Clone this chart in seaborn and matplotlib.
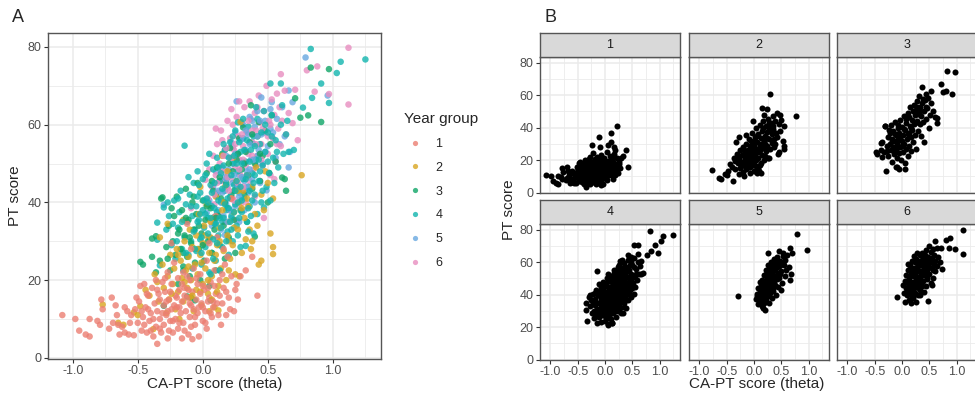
import pandas as pd
import seaborn as sns
import matplotlib.pyplot as plt
from matplotlib.ticker import MultipleLocator
"""
PT score against CA-PT score (theta): all year groups (A) and one panel per year group (B)
"""
#Points, one list of (theta, PT score) per year group
year1 = [(-1.08, 11), (-0.98, 10), (-0.95, 7), (-0.90, 6), (-0.87, 5.5), (-0.87, 10), (-0.81, 9.5),
         (-0.78, 15), (-0.77, 12.5), (-0.79, 8.5), (-0.72, 7.5), (-0.70, 15.5), (-0.69, 9), (-0.67, 13.5),
         (-0.66, 11), (-0.64, 6), (-0.62, 8), (-0.60, 6.5), (-0.58, 12), (-0.57, 6), (-0.55, 11),
         (-0.53, 5.8), (-0.52, 12.5), (-0.50, 9), (-0.49, 14.5), (-0.48, 18.5), (-0.47, 7), (-0.46, 10.5),
         (-0.45, 19), (-0.44, 13), (-0.43, 6.5), (-0.42, 16), (-0.41, 9.5), (-0.40, 11.5), (-0.39, 18),
         (-0.38, 5.5), (-0.37, 14), (-0.36, 8), (-0.35, 3.6), (-0.35, 12), (-0.34, 16.5), (-0.33, 10),
         (-0.32, 6.5), (-0.31, 19.5), (-0.30, 13.5), (-0.30, 8.5), (-0.29, 17), (-0.28, 11), (-0.27, 22),
         (-0.27, 5), (-0.26, 15), (-0.25, 9.5), (-0.24, 19), (-0.24, 12.5), (-0.23, 6.5), (-0.22, 24.5),
         (-0.21, 16), (-0.21, 10), (-0.20, 13), (-0.19, 20.5), (-0.19, 7.5), (-0.18, 17.5), (-0.17, 11.5),
         (-0.16, 14.5), (-0.15, 22), (-0.15, 9), (-0.14, 18), (-0.13, 12), (-0.12, 34.5), (-0.12, 15.5),
         (-0.11, 6), (-0.10, 20), (-0.10, 10.5), (-0.09, 13.5), (-0.08, 4.8), (-0.08, 17), (-0.07, 23),
         (-0.06, 8.5), (-0.05, 15), (-0.04, 11.5), (-0.04, 19), (-0.03, 5.5), (-0.02, 21.5), (-0.01, 14),
         (0.00, 9.5), (0.01, 17.5), (0.02, 12), (0.03, 25), (0.03, 7.5), (0.05, 15.5), (0.06, 19.5),
         (0.07, 10.5), (0.08, 13), (0.09, 22.5), (0.10, 36.5), (0.10, 16.5), (0.11, 31), (0.12, 11),
         (0.13, 20), (0.14, 8.5), (0.15, 14), (0.16, 18), (0.17, 24), (0.18, 11), (0.19, 26), (0.20, 15.5),
         (0.22, 41), (0.22, 21), (0.24, 12), (0.25, 17.5), (0.27, 15), (0.29, 21), (0.33, 22.5), (0.38, 26),
         (0.42, 16), (-0.24, 29.5), (-0.60, 13), (-0.65, 8.5), (-0.47, 12), (-0.40, 7), (-0.36, 20),
         (-0.31, 11.5), (-0.28, 14.5), (-0.26, 7), (-0.22, 13.5), (-0.18, 9), (-0.14, 16), (-0.12, 21),
         (-0.07, 12.5), (-0.02, 16.5), (0.04, 18), (0.08, 14.5), (-0.33, 15), (-0.43, 16.5), (-0.16, 5),
         (-0.09, 8), (0.00, 13), (0.13, 16),
         (-0.56, 9), (-0.51, 15.5), (-0.45, 8.5), (-0.42, 12.5), (-0.38, 10), (-0.35, 17.5), (-0.33, 7.5),
         (-0.29, 20.5), (-0.27, 12), (-0.25, 17), (-0.23, 9.5), (-0.20, 15.5), (-0.18, 13), (-0.16, 19),
         (-0.14, 7), (-0.11, 17.5), (-0.10, 14), (-0.06, 10.5), (-0.05, 20.5), (-0.03, 13), (0.00, 18.5),
         (0.02, 9), (0.04, 14.5), (0.06, 11.5), (0.09, 18.5), (0.11, 14), (0.15, 21.5), (0.18, 17),
         (0.21, 12.5), (0.26, 19), (-0.09, 28), (0.05, 29.5), (0.16, 28)]

year2 = [(-0.77, 13.7), (-0.65, 9), (-0.61, 8.5), (-0.53, 11.7), (-0.50, 11), (-0.48, 13.3), (-0.44, 17.5),
         (-0.41, 16), (-0.38, 7.4), (-0.37, 21.5), (-0.35, 19.5), (-0.34, 14.5), (-0.33, 31), (-0.31, 24),
         (-0.30, 18), (-0.28, 11.5), (-0.27, 34.5), (-0.27, 21), (-0.26, 15), (-0.25, 26.5), (-0.23, 19),
         (-0.22, 23), (-0.21, 12.5), (-0.20, 28), (-0.19, 17), (-0.18, 10), (-0.17, 25), (-0.16, 20.5),
         (-0.15, 35.5), (-0.15, 14.5), (-0.14, 30), (-0.13, 22.5), (-0.12, 18), (-0.11, 26), (-0.10, 33),
         (-0.10, 15.5), (-0.09, 20), (-0.08, 28.5), (-0.07, 12), (-0.06, 24), (-0.05, 31.5), (-0.05, 17.5),
         (-0.04, 21.5), (-0.03, 37), (-0.02, 44), (-0.02, 26.5), (-0.01, 13.5), (0.00, 29.5), (0.00, 19),
         (0.01, 34), (0.02, 23), (0.03, 39.5), (0.04, 16.5), (0.05, 27), (0.05, 12), (0.06, 31), (0.07, 21),
         (0.08, 36), (0.09, 25), (0.09, 13), (0.10, 41.5), (0.11, 29), (0.12, 18.5), (0.12, 12.2),
         (0.13, 33.5), (0.14, 23), (0.15, 52), (0.15, 38), (0.16, 27.5), (0.17, 44), (0.18, 20), (0.19, 48),
         (0.19, 31.5), (0.20, 35), (0.21, 25.5), (0.22, 41), (0.23, 51.5), (0.23, 29), (0.24, 37.5),
         (0.25, 21.5), (0.26, 45.5), (0.27, 33), (0.28, 21), (0.28, 40), (0.29, 60.7), (0.30, 27), (0.31, 43),
         (0.32, 36), (0.33, 30.5), (0.34, 47), (0.35, 39), (0.36, 33), (0.37, 28), (0.38, 30), (0.38, 44),
         (0.40, 37), (0.41, 49), (0.42, 34), (0.43, 24), (0.45, 25), (0.45, 42), (0.47, 38), (0.48, 48),
         (0.50, 45), (0.52, 32), (0.54, 41), (0.54, 26.7), (0.54, 28.5), (0.76, 47), (-0.02, 17), (0.07, 15),
         (-0.24, 16.5), (-0.19, 26.5), (-0.14, 19.5), (-0.11, 23.5), (-0.08, 16), (-0.04, 28), (-0.01, 24.5),
         (0.02, 31.5), (0.04, 20), (0.06, 35), (0.10, 26.5), (0.13, 30), (0.16, 40), (0.20, 30), (0.24, 33.5),
         (0.27, 43), (0.30, 38.5), (0.34, 41), (0.20, 22.5), (0.11, 17)]

year3 = [(-0.48, 24.7), (-0.46, 24), (-0.39, 26), (-0.39, 30.7), (-0.36, 22), (-0.36, 31.3), (-0.33, 25),
         (-0.32, 41), (-0.31, 41.3), (-0.30, 13.4), (-0.28, 28.5), (-0.26, 34), (-0.25, 22.5), (-0.23, 30),
         (-0.22, 36.5), (-0.21, 26.5), (-0.20, 41.5), (-0.19, 19), (-0.18, 33), (-0.17, 28), (-0.16, 38),
         (-0.15, 23.5), (-0.14, 31.5), (-0.13, 43.5), (-0.12, 15.8), (-0.12, 26), (-0.11, 35.5), (-0.10, 21),
         (-0.09, 15.5), (-0.09, 29.5), (-0.08, 40), (-0.07, 33), (-0.06, 14.8), (-0.06, 24.5), (-0.05, 37),
         (-0.04, 45), (-0.03, 28), (-0.02, 20), (-0.01, 32), (0.00, 40.5), (0.01, 25), (0.02, 35.5),
         (0.03, 47.5), (0.04, 30), (0.05, 18.5), (0.06, 14.8), (0.06, 38.5), (0.07, 27), (0.08, 43),
         (0.09, 33), (0.10, 22.5), (0.11, 49), (0.12, 36.5), (0.13, 29), (0.14, 41), (0.15, 52.5), (0.16, 34),
         (0.17, 25.5), (0.18, 45), (0.19, 38.5), (0.20, 31), (0.21, 54), (0.22, 42), (0.23, 48), (0.24, 35.5),
         (0.25, 27), (0.26, 51), (0.27, 44), (0.28, 56.5), (0.29, 38), (0.30, 48.5), (0.31, 59.3), (0.32, 42),
         (0.33, 53), (0.34, 35), (0.35, 47), (0.36, 55.5), (0.37, 65), (0.38, 43.5), (0.40, 31.2), (0.40, 50),
         (0.42, 57), (0.43, 60.7), (0.44, 45.5), (0.46, 52), (0.48, 58.5), (0.50, 40), (0.51, 47.6), (0.52, 55),
         (0.53, 62.4), (0.56, 50.5), (0.61, 46.4), (0.63, 46), (0.64, 43), (0.71, 66.8), (0.75, 61.8),
         (0.81, 62.4), (0.83, 74.7), (0.91, 60.7), (0.97, 74.3),
         (-0.27, 25.5), (-0.24, 38.5), (-0.19, 32), (-0.15, 27), (-0.13, 36), (-0.10, 31), (-0.07, 41.5),
         (-0.03, 34), (0.00, 29), (0.03, 39), (0.07, 45.5), (0.10, 36), (0.13, 46.5), (0.17, 40), (0.20, 50),
         (0.24, 43), (0.27, 52.5), (0.32, 50), (0.38, 57.5), (0.44, 52.5)]

year4 = [(-0.35, 34.8), (-0.35, 30.4), (-0.33, 23.8), (-0.30, 38.7), (-0.28, 33), (-0.26, 36.5), (-0.24, 29),
         (-0.22, 40.5), (-0.21, 25.5), (-0.19, 33.5), (-0.18, 37.5), (-0.17, 43), (-0.16, 28), (-0.15, 22.5),
         (-0.14, 54.6), (-0.14, 31), (-0.13, 39.5), (-0.12, 35), (-0.11, 26.5), (-0.10, 42), (-0.09, 30),
         (-0.08, 36.5), (-0.08, 23), (-0.07, 45), (-0.06, 33), (-0.05, 39), (-0.05, 27.5), (-0.04, 48),
         (-0.03, 35.5), (-0.02, 30.5), (-0.02, 42.5), (-0.01, 24), (0.00, 38), (0.00, 46), (0.01, 33.5),
         (0.02, 28.5), (0.03, 41), (0.03, 50), (0.04, 36), (0.05, 22), (0.05, 31), (0.06, 44.5), (0.07, 39),
         (0.07, 27), (0.08, 48.5), (0.09, 34.5), (0.10, 42), (0.10, 25), (0.11, 37.5), (0.11, 51.5),
         (0.12, 31.5), (0.13, 45.5), (0.13, 22.5), (0.14, 40), (0.15, 35), (0.15, 28.5), (0.16, 49.5),
         (0.17, 43), (0.17, 53.5), (0.18, 38), (0.19, 32.5), (0.19, 46.5), (0.20, 26.5), (0.21, 41.5),
         (0.21, 55.5), (0.22, 36.5), (0.23, 50), (0.23, 30), (0.24, 44.5), (0.25, 39.5), (0.25, 58.5),
         (0.26, 34), (0.27, 60.6), (0.27, 48), (0.28, 42.5), (0.29, 28.5), (0.29, 53), (0.30, 37.5), (0.31, 46),
         (0.31, 56.5), (0.32, 41), (0.33, 28.8), (0.33, 50.5), (0.34, 35), (0.35, 44), (0.35, 59.5), (0.36, 39),
         (0.37, 53.5), (0.38, 47.5), (0.39, 32), (0.39, 57), (0.40, 42), (0.41, 51), (0.42, 61.5), (0.42, 37),
         (0.43, 45.5), (0.44, 55), (0.45, 40), (0.46, 49.5), (0.47, 38.7), (0.47, 63.5), (0.48, 53), (0.49, 44),
         (0.50, 58), (0.51, 47.5), (0.52, 70.6), (0.52, 40.5), (0.53, 62.5), (0.54, 51.5), (0.55, 45),
         (0.56, 56), (0.58, 49), (0.60, 70.6), (0.60, 60), (0.62, 52.5), (0.64, 57.5), (0.66, 53), (0.70, 53.5),
         (0.77, 64.4), (0.83, 79.5), (0.84, 66.9), (0.91, 70.6), (0.97, 65.6), (1.03, 73.3), (1.06, 76.2),
         (1.25, 76.8), (0.06, 21.5), (0.13, 22.5), (-0.02, 37), (0.08, 30.5), (0.12, 40.5), (0.18, 44.5),
         (0.22, 33), (0.26, 45.5), (0.30, 50), (0.34, 47), (0.38, 40.5), (0.43, 51), (0.16, 36), (0.09, 45),
         (0.04, 40), (-0.01, 31), (0.20, 38.5), (0.24, 52), (0.28, 36), (0.36, 43), (0.32, 53.5), (0.45, 58),
         (0.14, 47.5), (0.10, 34.5), (0.27, 40), (0.06, 36), (-0.04, 41.5), (0.35, 32.5), (0.40, 47),
         (-0.27, 40), (-0.23, 34.5), (-0.20, 30), (-0.19, 41), (-0.16, 35), (-0.13, 27), (-0.11, 46.5),
         (-0.09, 39), (-0.07, 32.5), (-0.06, 28), (-0.04, 35), (-0.03, 44.5), (-0.01, 27), (0.01, 40.5),
         (0.02, 47), (0.04, 32), (0.05, 52.5), (0.07, 42.5), (0.08, 25.5), (0.09, 38.5), (0.11, 29.5),
         (0.12, 49), (0.14, 33.5), (0.15, 43.5), (0.16, 55), (0.18, 30), (0.19, 41), (0.20, 51.5), (0.21, 35),
         (0.22, 47), (0.23, 57), (0.24, 37.5), (0.26, 50), (0.27, 31.5), (0.28, 55.5), (0.29, 44),
         (0.30, 40.5), (0.31, 61.5), (0.33, 46), (0.34, 56), (0.36, 50.5), (0.37, 36.5), (0.39, 45),
         (0.40, 54.5), (0.41, 64.5), (0.44, 48), (0.46, 43), (0.48, 60), (0.50, 50.5), (0.53, 57), (0.57, 53),
         (0.61, 65), (0.65, 61), (0.35, 38.5), (0.25, 43), (0.17, 39.5), (0.02, 37), (0.13, 36)]

year5 = [(-0.30, 39.4), (0.03, 37.3), (0.05, 40.5), (0.06, 39.4), (0.07, 34), (0.08, 44), (0.09, 36.3),
         (0.10, 34.8), (0.10, 48), (0.11, 41.5), (0.12, 38), (0.13, 45.5), (0.14, 33), (0.15, 49), (0.15, 42.5),
         (0.16, 36.5), (0.17, 31.6), (0.17, 46.5), (0.18, 52), (0.18, 39.5), (0.19, 44), (0.20, 30.4),
         (0.20, 48.5), (0.21, 41), (0.22, 55.5), (0.22, 36), (0.23, 54.2), (0.23, 45), (0.24, 50), (0.25, 39),
         (0.25, 58), (0.26, 66), (0.26, 43.5), (0.27, 52.5), (0.28, 47), (0.28, 35), (0.29, 56), (0.30, 41),
         (0.30, 50.5), (0.31, 60), (0.32, 45.5), (0.32, 38), (0.33, 53.5), (0.34, 48), (0.35, 57.5),
         (0.35, 42.5), (0.36, 62), (0.37, 51), (0.38, 46), (0.39, 55), (0.40, 59.5), (0.40, 40), (0.41, 49.5),
         (0.42, 63.5), (0.43, 53.5), (0.44, 45), (0.45, 67), (0.45, 57.5), (0.46, 50), (0.48, 61), (0.49, 43.1),
         (0.50, 54.5), (0.51, 47.5), (0.52, 64), (0.53, 65.8), (0.54, 58), (0.56, 51.5), (0.57, 61.5),
         (0.59, 55), (0.61, 64.5), (0.63, 57), (0.66, 68.8), (0.66, 49), (0.67, 53), (0.69, 65.8), (0.79, 77.3),
         (0.96, 67.5), (0.12, 43), (0.19, 35), (0.27, 44), (0.36, 55), (0.42, 52), (0.47, 58), (0.24, 47),
         (0.31, 56.5), (0.38, 61),
         (0.14, 40), (0.18, 46), (0.21, 38), (0.25, 52.5), (0.28, 41.5), (0.30, 46.5), (0.33, 58.5),
         (0.36, 48.5), (0.39, 51), (0.42, 57), (0.44, 61), (0.48, 53), (0.52, 59), (0.16, 43), (0.34, 44)]

year6 = [(-0.09, 38.5), (0.02, 45.8), (0.04, 41), (0.05, 48.5), (0.06, 35.4), (0.07, 44), (0.08, 52),
         (0.09, 39.5), (0.10, 47), (0.11, 55), (0.12, 42.5), (0.13, 36.5), (0.13, 50), (0.14, 58.5),
         (0.15, 45.5), (0.16, 40), (0.17, 35), (0.17, 53.5), (0.18, 48), (0.19, 61), (0.19, 43.5), (0.20, 38),
         (0.21, 51.5), (0.21, 56.5), (0.22, 46), (0.23, 60), (0.23, 41), (0.24, 53.5), (0.25, 49), (0.26, 35.4),
         (0.26, 44.5), (0.26, 62), (0.27, 57), (0.28, 51), (0.29, 39.5), (0.29, 47), (0.30, 60.5), (0.31, 54.5),
         (0.32, 43), (0.32, 64.5), (0.33, 49.5), (0.34, 58), (0.35, 52.5), (0.36, 45.5), (0.36, 66),
         (0.37, 61.5), (0.38, 55.5), (0.39, 48.5), (0.40, 63), (0.40, 41.5), (0.41, 58.5), (0.42, 52),
         (0.43, 67.5), (0.44, 45.5), (0.44, 60.5), (0.45, 55), (0.46, 49.5), (0.47, 36), (0.47, 63.5),
         (0.48, 58), (0.49, 70), (0.50, 52.5), (0.51, 61), (0.52, 47), (0.53, 66.5), (0.54, 56.5), (0.55, 62.5),
         (0.56, 50.5), (0.57, 68), (0.58, 59), (0.59, 64.5), (0.60, 73), (0.60, 54.5), (0.61, 61), (0.63, 68.75),
         (0.64, 57.5), (0.66, 63), (0.69, 60.4), (0.71, 69), (0.73, 56), (0.80, 74), (0.86, 68.5), (0.88, 75),
         (0.97, 67.9), (1.12, 79.8), (1.12, 65.2), (0.15, 56), (0.22, 64), (0.27, 45), (0.33, 40), (0.38, 52),
         (0.45, 51), (0.50, 57), (0.30, 57.5), (0.18, 54), (0.24, 40.5), (0.34, 47), (0.42, 64.5), (0.11, 45),
         (0.55, 46), (0.57, 55), (0.10, 59), (0.28, 66),
         (0.09, 42), (0.14, 48), (0.16, 52), (0.19, 46.5), (0.22, 51.5), (0.25, 55), (0.28, 48.5), (0.31, 51),
         (0.35, 61), (0.38, 58.5), (0.41, 55), (0.46, 59), (0.52, 60), (0.20, 43), (0.31, 44)]

year_labels = ["1", "2", "3", "4", "5", "6"]
year_colors = ["#EC7E72", "#D9A520", "#0FA567", "#11B5AE", "#68A8E0", "#E88DC0"]
x_ticks = [-1.0, -0.5, 0.0, 0.5, 1.0]
y_ticks = [0, 20, 40, 60, 80]

#Long table: one row per pupil
rows = []
for label, pts in zip(year_labels, [year1, year2, year3, year4, year5, year6]):
    for k, (theta, pt) in enumerate(pts):
        rows.append({"theta": theta, "pt": pt, "Year group": label, "k": k})
df = pd.DataFrame(rows)
#Interleave the groups so no single colour is always drawn on top
df_mixed = df.sort_values("k", kind="stable")

sns.set_theme(style="white")
plt.rcParams['font.family'] = ['Liberation Sans', 'DejaVu Sans']
plt.rcParams['axes.unicode_minus'] = False

W, H = 975, 397
fig = plt.figure(figsize=(W / 100, H / 100), dpi=100)


def px_box(left, top, right, bottom):
    return [left / W, 1 - bottom / H, (right - left) / W, (bottom - top) / H]


def style_panel(ax, show_x=True, show_y=True):
    ax.set_xlim(-1.19, 1.37)
    ax.set_ylim(-0.3, 83.6)
    ax.set_xticks(x_ticks)
    ax.set_yticks(y_ticks)
    ax.xaxis.set_minor_locator(MultipleLocator(0.25))
    ax.yaxis.set_minor_locator(MultipleLocator(10))
    ax.set_facecolor("white")
    ax.grid(which="major", color="#EBEBEB", lw=1.1)
    ax.grid(which="minor", color="#EBEBEB", lw=0.6)
    ax.set_axisbelow(True)
    for s in ax.spines.values():
        s.set_visible(True)
        s.set_color("#555555")
        s.set_linewidth(1.0)
    ax.tick_params(which="major", bottom=show_x, left=show_y, labelbottom=show_x, labelleft=show_y,
                   direction="out", length=3, width=0.8, color="#333333",
                   labelcolor="#4D4D4D", labelsize=9, pad=1.5)
    ax.tick_params(which="minor", length=0)
    ax.set_xlabel("")
    ax.set_ylabel("")


#Panel A: all year groups together
axA = fig.add_axes(px_box(48, 33, 381, 359))
sns.scatterplot(data=df_mixed, x="theta", y="pt", hue="Year group", hue_order=year_labels,
                palette=year_colors, s=22, alpha=0.8, linewidth=0, ax=axA)
style_panel(axA)
sns.move_legend(axA, loc="upper left", bbox_to_anchor=(404 / W, 1 - 112 / H),
                bbox_transform=fig.transFigure, frameon=False, title="Year group",
                fontsize=9, title_fontsize=11, borderpad=0, borderaxespad=0,
                handlelength=1.8, handletextpad=0.7, labelspacing=0.95,
                alignment="left", markerscale=0.8)

fig.text(12 / W, 1 - 17 / H, "A", fontsize=13, va="center", ha="left")
fig.text(214.5 / W, 1 - 384 / H, "CA-PT score (theta)", fontsize=11, ha="center", va="center")
fig.text(15 / W, 1 - 196 / H, "PT score", fontsize=11, ha="center", va="center", rotation=90)

#Panel B: one facet per year group
col_left = [540, 689, 837]
row_tops = [33, 200]
strip_h, panel_w, panel_h = 24, 140, 136
for i, label in enumerate(year_labels):
    r, c = divmod(i, 3)
    left, top = col_left[c], row_tops[r]
    ax = fig.add_axes(px_box(left, top + strip_h, left + panel_w, top + strip_h + panel_h))
    sns.scatterplot(data=df[df["Year group"] == label], x="theta", y="pt", color="black",
                    s=19, linewidth=0, ax=ax)
    style_panel(ax, show_x=(r == 1), show_y=(c == 0))

    strip = fig.add_axes(px_box(left, top, left + panel_w, top + strip_h))
    strip.set_facecolor("#D9D9D9")
    strip.set_xticks([])
    strip.set_yticks([])
    for s in strip.spines.values():
        s.set_visible(True)
        s.set_color("#555555")
        s.set_linewidth(1.0)
    strip.text(0.5, 0.5, label, ha="center", va="center", fontsize=9, color="#1A1A1A",
               transform=strip.transAxes)

fig.text(545 / W, 1 - 17 / H, "B", fontsize=13, va="center", ha="left")
fig.text(757 / W, 1 - 384 / H, "CA-PT score (theta)", fontsize=11, ha="center", va="center")
fig.text(509 / W, 1 - 210 / H, "PT score", fontsize=11, ha="center", va="center", rotation=90)

fig.savefig("out.png", dpi=100)
